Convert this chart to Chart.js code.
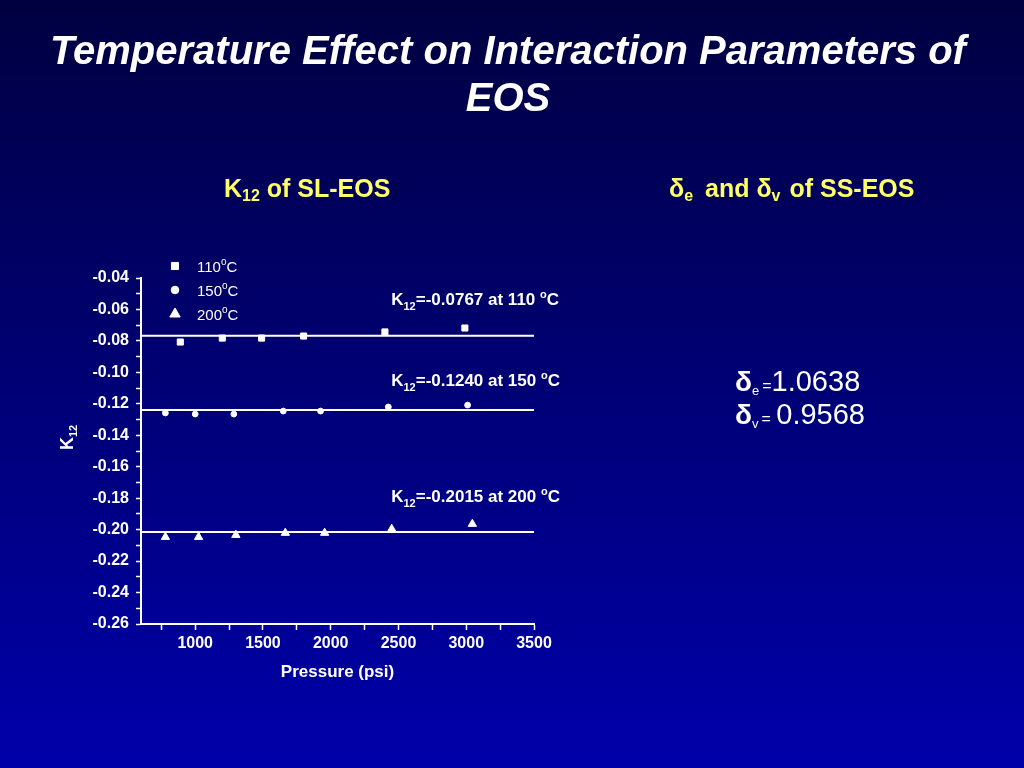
<!DOCTYPE html>
<html>
<head>
<meta charset="utf-8">
<script src="https://cdn.jsdelivr.net/npm/chart.js@4.4.1/dist/chart.umd.min.js"></script>
<style>
html,body{margin:0;padding:0;background:#000060;}
canvas{display:block;}
</style>
</head>
<body>
<canvas id="c" width="1024" height="768"></canvas>
<script>
// ---- data ----
const p110 = [890, 1200, 1490, 1800, 2400, 2990];
const k110 = [-0.0807, -0.0782, -0.0782, -0.0769, -0.0743, -0.0718];
const p150 = [780, 1000, 1285, 1650, 1925, 2425, 3010];
const k150 = [-0.1258, -0.1265, -0.1265, -0.1246, -0.1246, -0.1220, -0.1208];
const p200 = [780, 1025, 1300, 1665, 1955, 2450, 3045];
const k200 = [-0.2047, -0.2047, -0.2034, -0.2021, -0.2021, -0.1996, -0.1964];
const fitK = [-0.0767, -0.1240, -0.2015];
const fitTemps = ['110', '150', '200'];
const fitRange = [600, 3500];
const legendLabels = ['110', '150', '200'];
const xTicks = [750, 1000, 1250, 1500, 1750, 2000, 2250, 2500, 2750, 3000, 3250, 3500];
const xLabels = [1000, 1500, 2000, 2500, 3000, 3500];
const yTickVals = [-0.26,-0.25,-0.24,-0.23,-0.22,-0.21,-0.20,-0.19,-0.18,-0.17,-0.16,-0.15,-0.14,-0.13,-0.12,-0.11,-0.10,-0.09,-0.08,-0.07,-0.06,-0.05,-0.04];
const deltaE = '1.0638';
const deltaV = '0.9568';

const pts = (xs, ys) => xs.map((x, i) => ({x: x, y: ys[i]}));
const fitLine = k => fitRange.map(x => ({x: x, y: k}));

const datasets = [
  {label:'110', data: pts(p110,k110), pointStyle:'rect', pointRadius:4.3, backgroundColor:'#fff', borderColor:'#fff', showLine:false},
  {label:'150', data: pts(p150,k150), pointStyle:'circle', pointRadius:2.9, backgroundColor:'#fff', borderColor:'#fff', showLine:false},
  {label:'200', data: pts(p200,k200), pointStyle:'triangle', pointRadius:4.8, backgroundColor:'#fff', borderColor:'#fff', showLine:false},
];
fitK.forEach(k => datasets.push({label:'fit', data: fitLine(k), showLine:true, pointRadius:0, borderColor:'#fff', borderWidth:2}));

const FONT = '"Liberation Sans", Arial, sans-serif';

function drawSub(ctx, x, y, parts) {
  let cx = x;
  parts.forEach(p => {
    ctx.font = p[1];
    ctx.fillText(p[0], cx, y + (p[2]||0));
    cx += ctx.measureText(p[0]).width + (p[3]||0);
  });
  return cx;
}

const bgPlugin = {
  id: 'bg',
  beforeDraw(chart) {
    const ctx = chart.ctx;
    const g = ctx.createLinearGradient(0, 0, 0, 768);
    g.addColorStop(0, '#000040');
    g.addColorStop(1, '#0000aa');
    ctx.save();
    ctx.fillStyle = g;
    ctx.fillRect(0, 0, 1024, 768);
    ctx.restore();
  }
};

const textPlugin = {
  id: 'texts',
  afterDraw(chart) {
    const ctx = chart.ctx;
    const xs = chart.scales.x, ys = chart.scales.y;
    ctx.save();
    ctx.textBaseline = 'alphabetic';
    // title
    ctx.fillStyle = '#ffffff';
    ctx.textAlign = 'center';
    ctx.font = 'italic bold 40px ' + FONT;
    ctx.fillText('Temperature Effect on Interaction Parameters of', 508, 64);
    ctx.fillText('EOS', 508, 111);
    // subtitles
    ctx.textAlign = 'left';
    ctx.fillStyle = '#ffff66';
    drawSub(ctx, 224, 197, [['K', 'bold 25px '+FONT], ['12', 'bold 16px '+FONT, 4], [' of SL-EOS', 'bold 25px '+FONT]]);
    drawSub(ctx, 669, 197, [['δ', 'bold 25px '+FONT], ['e', 'bold 16px '+FONT, 4, 12], ['and δ', 'bold 25px '+FONT], ['v', 'bold 16px '+FONT, 4, 2], [' of SS-EOS', 'bold 25px '+FONT]]);
    // axis titles
    ctx.fillStyle = '#ffffff';
    ctx.textAlign = 'center';
    ctx.font = 'bold 17px ' + FONT;
    ctx.fillText('Pressure (psi)', (xs.left + xs.right)/2, 677);
    ctx.save();
    ctx.translate(73, 437);
    ctx.rotate(-Math.PI/2);
    ctx.textAlign = 'left';
    drawSub(ctx, -13, 0, [['K', 'bold 18px '+FONT], ['12', 'bold 11px '+FONT, 4]]);
    ctx.restore();
    // fit annotations
    ctx.textAlign = 'left';
    const offs = [-31, -24, -30];
    fitK.forEach((k, i) => {
      const x = xs.getPixelForValue(2450) - 0.5;
      const y = ys.getPixelForValue(k) + offs[i];
      drawSub(ctx, x, y, [
        ['K', 'bold 17px '+FONT],
        ['12', 'bold 11px '+FONT, 5],
        ['=' + k.toFixed(4) + ' at ' + fitTemps[i] + ' ', 'bold 17px '+FONT],
        ['o', 'bold 11px '+FONT, -7],
        ['C', 'bold 17px '+FONT]
      ]);
    });
    // legend
    const lx = 175, lyBase = [267, 291, 315];
    const legR = [5, 3.8, 6];
    legendLabels.forEach((lab, i) => {
      const ds = chart.data.datasets[i];
      ctx.fillStyle = '#ffffff';
      ctx.strokeStyle = '#ffffff';
      Chart.helpers.drawPoint(ctx, {pointStyle: ds.pointStyle, radius: legR[i], rotation: 0, borderWidth: 1}, lx, lyBase[i] - 1);
      ctx.fillStyle = '#ffffff';
      ctx.textBaseline = 'middle';
      drawSub(ctx, 197, lyBase[i] + 1, [[lab, '15px '+FONT], ['o', '10px '+FONT, -6], ['C', '15px '+FONT]]);
      ctx.textBaseline = 'alphabetic';
    });
    // delta values
    ctx.fillStyle = '#ffffff';
    drawSub(ctx, 735, 391, [['δ', 'bold 28px '+FONT], ['e', '13px '+FONT, 4, 3], ['=', '16px '+FONT, 0, 0], [deltaE, '29px '+FONT]]);
    drawSub(ctx, 735, 424, [['δ', 'bold 28px '+FONT], ['v', '13px '+FONT, 4, 3], ['= ', '16px '+FONT, 0, 1], [deltaV, '29px '+FONT]]);
    ctx.restore();
  }
};

const labelSet = new Set(xLabels);
new Chart(document.getElementById('c'), {
  type: 'scatter',
  data: { datasets: datasets },
  options: {
    responsive: false,
    animation: false,
    devicePixelRatio: 1,
    layout: { padding: { left: 0, right: 490, top: 278, bottom: 0 } },
    plugins: { legend: { display: false }, tooltip: { enabled: false } },
    scales: {
      x: {
        type: 'linear', min: 600, max: 3500,
        afterBuildTicks: s => { s.ticks = xTicks.map(v => ({value: v})); },
        afterFit: s => { s.height = 768 - 278 - 346; },
        border: { display: true, color: '#ffffff', width: 2 },
        grid: { display: true, drawOnChartArea: false, drawTicks: true, tickLength: 6, color: '#ffffff', tickColor: '#ffffff', tickWidth: 1.5 },
        ticks: { color: '#ffffff', font: { family: FONT, size: 16, weight: 'bold' }, padding: 4, maxRotation: 0, autoSkip: false,
          callback: v => labelSet.has(v) ? String(v) : '' }
      },
      y: {
        type: 'linear', min: -0.26, max: -0.04,
        afterBuildTicks: s => { s.ticks = yTickVals.map(v => ({value: v})); },
        afterFit: s => { s.width = 141; },
        border: { display: true, color: '#ffffff', width: 2 },
        grid: { display: true, drawOnChartArea: false, drawTicks: true, tickLength: 5, color: '#ffffff', tickColor: '#ffffff', tickWidth: 1.5 },
        ticks: { color: '#ffffff', font: { family: FONT, size: 16, weight: 'bold' }, padding: 7, autoSkip: false,
          callback: v => { const n = Math.round(v*100); return n % 2 === 0 ? v.toFixed(2) : ''; } }
      }
    }
  },
  plugins: [bgPlugin, textPlugin]
});
</script>
</body>
</html>
